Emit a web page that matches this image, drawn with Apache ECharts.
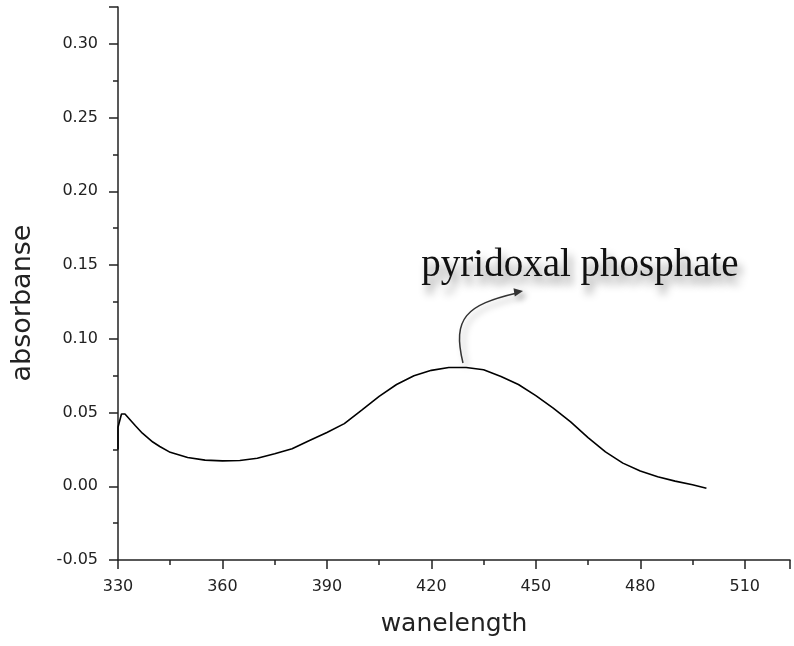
<!DOCTYPE html>
<html>
<head>
<meta charset="utf-8">
<script src="https://cdn.jsdelivr.net/npm/echarts@6/dist/echarts.min.js"></script>
<style>html,body{margin:0;padding:0;background:#fff}#chart{width:794px;height:646px}</style>
</head>
<body>
<div id="chart"></div>
<script>
// wavelength (nm) and absorbance
const wavelength = [330, 330, 331, 332, 335, 337, 340, 342, 345, 350, 355, 360, 365, 370, 375, 380, 385, 390, 395, 400, 405, 410, 415, 420, 425, 430, 435, 440, 445, 450, 455, 460, 465, 470, 475, 480, 485, 490, 495, 499];
const absorbance = [0.025, 0.040, 0.049, 0.049, 0.041, 0.036, 0.030, 0.027, 0.023, 0.0195, 0.0177, 0.0172, 0.0175, 0.019, 0.022, 0.0255, 0.031, 0.0365, 0.0425, 0.0517, 0.061, 0.069, 0.075, 0.0786, 0.0805, 0.0805, 0.079, 0.0745, 0.069, 0.0615, 0.053, 0.0437, 0.033, 0.0233, 0.0157, 0.0103, 0.0065, 0.0035, 0.001, -0.0013];
const xTitle = 'wanelength';
const yTitle = 'absorbanse';
const annotationText = 'pyridoxal phosphate';

const chart = echarts.init(document.getElementById('chart'));
const axisColor = '#222';
chart.setOption({
  animation: false,
  backgroundColor: '#fff',
  grid: {left: 118, right: 4, top: 7, bottom: 86, containLabel: false, outerBoundsMode: 'none'},
  xAxis: {
    type: 'value', min: 330, max: 523, interval: 30,
    name: xTitle, nameLocation: 'middle', nameGap: 52,
    nameTextStyle: {fontFamily: 'DejaVu Sans', fontSize: 25, color: '#222'},
    axisLine: {onZero: false, lineStyle: {color: axisColor, width: 1.5}},
    axisTick: {inside: false, length: 9, lineStyle: {color: axisColor, width: 1.5}},
    minorTick: {show: true, splitNumber: 2, length: 5, lineStyle: {color: axisColor, width: 1.5}},
    splitLine: {show: false},
    axisLabel: {margin: 19, fontFamily: 'DejaVu Sans', fontSize: 16, color: '#222', showMaxLabel: false}
  },
  yAxis: {
    type: 'value', min: -0.05, max: 0.325, interval: 0.05,
    name: yTitle, nameLocation: 'middle', nameGap: 82, nameRotate: 90,
    nameTextStyle: {fontFamily: 'DejaVu Sans', fontSize: 27, color: '#222', padding: [0, 39, 0, 0]},
    axisLine: {show: true, onZero: false, lineStyle: {color: axisColor, width: 1.5}},
    axisTick: {show: true, inside: false, length: 9, lineStyle: {color: axisColor, width: 1.5}},
    minorTick: {show: true, splitNumber: 2, length: 5, lineStyle: {color: axisColor, width: 1.5}},
    splitLine: {show: false},
    axisLabel: {margin: 20, fontFamily: 'DejaVu Sans', fontSize: 16, color: '#222', showMaxLabel: false,
      formatter: v => v.toFixed(2)}
  },
  series: [{
    type: 'line',
    data: wavelength.map((w, i) => [w, absorbance[i]]),
    showSymbol: false,
    smooth: false,
    lineStyle: {color: '#000', width: 1.6}
  }],
  graphic: [
    {
      type: 'text', x: 580, y: 266,
      style: {
        text: annotationText, font: '39px "Liberation Serif"', fill: '#111',
        align: 'center', verticalAlign: 'middle',
        textShadowColor: 'rgba(0,0,0,0.45)', textShadowBlur: 8, textShadowOffsetX: 4, textShadowOffsetY: 8
      }
    },
    {
      type: 'bezierCurve',
      shape: {x1: 463, y1: 363, cpx1: 452, cpy1: 318, cpx2: 466, cpy2: 305, x2: 517, y2: 293},
      style: {stroke: '#333', lineWidth: 1.5, fill: null, shadowBlur: 6, shadowColor: 'rgba(0,0,0,0.35)', shadowOffsetX: 4, shadowOffsetY: 4}
    },
    {
      type: 'polygon',
      shape: {points: [[523, 291], [513.5, 288.2], [514.8, 296.6]]},
      style: {fill: '#333', shadowBlur: 6, shadowColor: 'rgba(0,0,0,0.35)', shadowOffsetX: 4, shadowOffsetY: 4}
    }
  ]
});
</script>
</body>
</html>
